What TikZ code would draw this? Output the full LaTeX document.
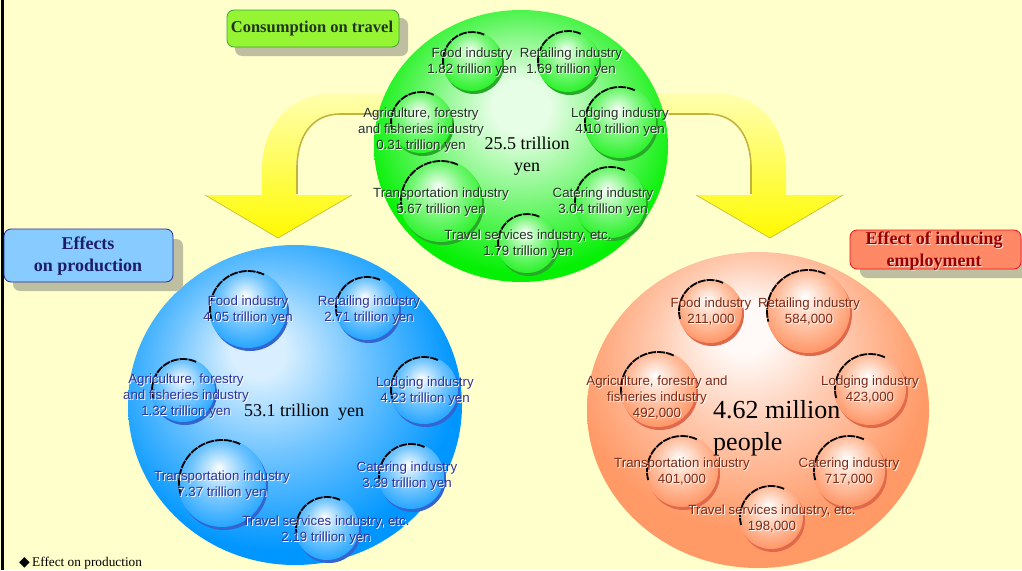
\documentclass[tikz,border=0pt]{standalone}
\usepackage{fontspec}
\setmainfont{Liberation Serif}
\newfontfamily\arialf{Liberation Sans}
\newfontfamily\dejavuf{DejaVu Sans}
\definecolor{bgY}{RGB}{255,255,204}
\definecolor{gC}{RGB}{5,240,5}
\definecolor{bC}{RGB}{0,150,255}
\definecolor{oC}{RGB}{255,153,102}
\colorlet{gHi}{white!90!gC}\colorlet{gMid}{white!50!gC}
\colorlet{bHi}{white!85!bC}\colorlet{bMid}{white!45!bC}
\colorlet{oHi}{white!95!oC}\colorlet{oMid}{white!50!oC}
\colorlet{gBHi}{white!80!gC}\colorlet{gBMid}{white!45!gC}\colorlet{gBEdge}{gC!88!white}
\colorlet{bBHi}{white!80!bC}\colorlet{bBMid}{white!45!bC}\colorlet{bBEdge}{bC!88!white}
\colorlet{oBHi}{white!80!oC}\colorlet{oBMid}{white!40!oC}\colorlet{oBEdge}{oC!95!red}
\definecolor{gSh}{RGB}{40,170,40}
\definecolor{bSh}{RGB}{50,100,210}
\definecolor{oSh}{RGB}{225,105,75}
\definecolor{gTxt}{RGB}{35,50,35}
\definecolor{bTxt}{RGB}{50,50,150}
\definecolor{oTxt}{RGB}{125,40,20}
\definecolor{arrTop}{RGB}{255,255,175}
\definecolor{arrBot}{RGB}{255,250,0}
\definecolor{arrEdge}{RGB}{195,180,60}
\definecolor{boxSh}{RGB}{190,190,160}
\definecolor{consF}{RGB}{150,245,50}
\definecolor{consD}{RGB}{60,160,60}
\definecolor{effF}{RGB}{136,204,255}
\definecolor{effD}{RGB}{40,40,150}
\definecolor{empF}{RGB}{255,136,102}
\definecolor{empD}{RGB}{240,20,20}
\pgfdeclareradialshading{gbig}{\pgfpoint{0bp}{8bp}}{color(0bp)=(gHi); color(5bp)=(gHi); color(15bp)=(gMid); color(27bp)=(gC); color(50bp)=(gC)}
\pgfdeclareradialshading{bbig}{\pgfpoint{-6bp}{9bp}}{color(0bp)=(bHi); color(4bp)=(bHi); color(14bp)=(bMid); color(27bp)=(bC); color(50bp)=(bC)}
\pgfdeclareradialshading{obig}{\pgfpoint{-2bp}{14bp}}{color(0bp)=(oHi); color(4bp)=(oHi); color(13bp)=(oMid); color(26bp)=(oC); color(50bp)=(oC)}
\pgfdeclareradialshading{gbub}{\pgfpoint{-2bp}{9bp}}{color(0bp)=(white); color(5bp)=(gBHi); color(16bp)=(gBMid); color(30bp)=(gBEdge); color(50bp)=(gBEdge)}
\pgfdeclareradialshading{bbub}{\pgfpoint{-2bp}{9bp}}{color(0bp)=(white); color(5bp)=(bBHi); color(16bp)=(bBMid); color(30bp)=(bBEdge); color(50bp)=(bBEdge)}
\pgfdeclareradialshading{obub}{\pgfpoint{-2bp}{9bp}}{color(0bp)=(white); color(5bp)=(oBHi); color(16bp)=(oBMid); color(30bp)=(oBEdge); color(50bp)=(oBEdge)}
% bubble: #1 name, #2 x, #3 y, #4 r, #5 shading, #6 shadow colour
\newcommand{\mybub}[6]{%
  \fill[#6] (#2+2,-#3-3) circle[radius=#4];
  \shade[shading=#5] (#2,-#3) circle[radius=#4];
  \draw[black, line width=1.8pt, dash pattern=on 8pt off 1pt] (#2,-#3) ++(65:#4-1) arc[start angle=65, end angle=195, radius=#4-1];
  \coordinate (#1) at (#2,-#3);
}
% label: #1 name, #2 x, #3 y, #4 colour, #5 text
\newcommand{\mylbl}[5]{%
  \node[lblsty, text=white] at (#2+0.9,-#3-0.9) {#5};
  \node[lblsty, text=#4] (#1) at (#2,-#3) {#5};
}
\tikzset{
  lblsty/.style={font=\arialf\fontsize{13.3}{16}\selectfont, align=center, inner sep=0pt},
  bigsty/.style={font=\fontsize{18}{22}\selectfont, align=center, inner sep=0pt},
  boxtxt/.style={font=\bfseries\fontsize{18}{22}\selectfont, align=center, inner sep=0pt},
  arrowshape/.style={top color=arrTop, bottom color=arrBot},
  edgeline/.style={arrEdge, line width=1.6pt},
  boxshadow/.style={fill=boxSh, rounded corners=7pt},
}
\begin{document}
\begin{tikzpicture}[x=1pt,y=1pt]
\useasboundingbox (0,0) rectangle (1022,-570);
\clip (0,0) rectangle (1022,-570);
\fill[bgY] (0,0) rectangle (1022,-570);
\draw[line width=3pt] (2.5,0) -- (2.5,-570);

% curved arrows
\shade[arrowshape] (405,-93) -- (335,-93) .. controls (290,-93) and (262,-125) .. (262,-170) -- (262,-195) -- (205,-195) -- (278,-238) -- (352,-195) -- (296,-195) -- (296,-168) .. controls (296,-135) and (312,-113) .. (340,-113) -- (405,-113) -- cycle;
\draw[edgeline] (405,-114) -- (340,-114) .. controls (313,-114) and (297,-135) .. (297,-168) -- (297,-194);
\draw[arrEdge, line width=0.6pt] (205,-195) -- (278,-238) -- (352,-195);
\shade[arrowshape] (643,-93) -- (713,-93) .. controls (758,-93) and (786,-125) .. (786,-170) -- (786,-195) -- (843,-195) -- (770,-238) -- (696,-195) -- (752,-195) -- (752,-168) .. controls (752,-135) and (736,-113) .. (708,-113) -- (643,-113) -- cycle;
\draw[edgeline] (643,-114) -- (708,-114) .. controls (735,-114) and (751,-135) .. (751,-168) -- (751,-194);
\draw[arrEdge, line width=0.6pt] (696,-195) -- (770,-238) -- (843,-195);

% big circles
\shade[shading=gbig] (521,-146) ellipse[x radius=147, y radius=136];
\coordinate (green) at (521,-146);
\shade[shading=bbig] (295,-405) ellipse[x radius=167, y radius=160];
\coordinate (blue) at (295,-405);
\shade[shading=obig] (758,-410) ellipse[x radius=171, y radius=158];
\coordinate (orange) at (758,-410);

% green bubbles
\mybub{gb1}{472}{61}{30}{gbub}{gSh}
\mybub{gb2}{568}{61}{31}{gbub}{gSh}
\mybub{gb3}{620}{122}{36}{gbub}{gSh}
\mybub{gb4}{421}{122}{31}{gbub}{gSh}
\mybub{gb5}{441}{201}{41}{gbub}{gSh}
\mybub{gb6}{610}{202}{36}{gbub}{gSh}
\mybub{gb7}{527}{243}{30}{gbub}{gSh}
% blue bubbles
\mybub{bb1}{248}{309}{39}{bbub}{bSh}
\mybub{bb2}{367}{308}{32}{bbub}{bSh}
\mybub{bb3}{183}{390}{32}{bbub}{bSh}
\mybub{bb4}{424}{390}{34}{bbub}{bSh}
\mybub{bb5}{222}{483}{44}{bbub}{bSh}
\mybub{bb6}{411}{476}{33}{bbub}{bSh}
\mybub{bb7}{327}{528}{32}{bbub}{bSh}
% orange bubbles
\mybub{ob1}{710}{311}{32}{obub}{oSh}
\mybub{ob2}{808}{311}{42}{obub}{oSh}
\mybub{ob3}{658}{389}{38}{obub}{oSh}
\mybub{ob4}{870}{389}{36}{obub}{oSh}
\mybub{ob5}{682}{471}{36}{obub}{oSh}
\mybub{ob6}{849}{471}{36}{obub}{oSh}
\mybub{ob7}{771}{517}{32}{obub}{oSh}

% green labels
\mylbl{gl1}{472}{62.5}{gTxt}{Food industry\\1.82 trillion yen}
\mylbl{gl2}{571}{62.5}{gTxt}{Retailing industry\\1.69 trillion yen}
\mylbl{gl3}{421}{130}{gTxt}{Agriculture, forestry\\and fisheries industry\\0.31 trillion yen}
\mylbl{gl4}{620}{122.5}{gTxt}{Lodging industry\\4.10 trillion yen}
\mylbl{gl5}{441}{202}{gTxt}{Transportation industry\\5.67 trillion yen}
\mylbl{gl6}{603}{202}{gTxt}{Catering industry\\3.04 trillion yen}
\mylbl{gl7}{528}{244.5}{gTxt}{Travel services industry, etc.\\1.79 trillion yen}
\node[bigsty] (gtotal) at (527,-156) {25.5 trillion\\yen};

% blue labels
\mylbl{bl1}{248}{310}{bTxt}{Food industry\\4.05 trillion yen}
\mylbl{bl2}{369}{310}{bTxt}{Retailing industry\\2.71 trillion yen}
\mylbl{bl3}{186}{396}{bTxt}{Agriculture, forestry\\and fisheries industry\\1.32 trillion yen}
\mylbl{bl4}{425}{391}{bTxt}{Lodging industry\\4.23 trillion yen}
\mylbl{bl5}{222}{485.5}{bTxt}{Transportation industry\\7.37 trillion yen}
\mylbl{bl6}{407}{476.5}{bTxt}{Catering industry\\3.39 trillion yen}
\mylbl{bl7}{326}{530}{bTxt}{Travel services industry, etc.\\2.19 trillion yen}
\node[bigsty] (btotal) at (304,-412) {53.1 trillion\ \ yen};

% orange labels
\mylbl{ol1}{711}{311.5}{oTxt}{Food industry\\211,000}
\mylbl{ol2}{809}{311.5}{oTxt}{Retailing industry\\584,000}
\mylbl{ol3}{657}{398}{oTxt}{Agriculture, forestry and\\fisheries industry\\492,000}
\mylbl{ol4}{870}{390}{oTxt}{Lodging industry\\423,000}
\mylbl{ol5}{682}{472}{oTxt}{Transportation industry\\401,000}
\mylbl{ol6}{849}{472}{oTxt}{Catering industry\\717,000}
\mylbl{ol7}{772}{519}{oTxt}{Travel services industry, etc.\\198,000}
\node[font=\fontsize{26}{32}\selectfont, align=left, inner sep=0pt, anchor=west] (ototal) at (713,-428) {4.62 million\\people};

% title boxes
\fill[boxshadow] (235,-18) rectangle (408,-56);
\draw[fill=consF, draw=consD, line width=0.8pt, rounded corners=7pt] (227,-10) rectangle (399,-47);
\node[boxtxt, font=\bfseries\fontsize{16.5}{20}\selectfont, text=gTxt] (cons) at (312,-29) {Consumption on travel};

\fill[boxshadow] (13,-239) rectangle (183,-291);
\draw[fill=effF, draw=effD, line width=0.8pt, rounded corners=7pt] (4,-229) rectangle (173,-282);
\node[boxtxt, text=effD!70!black] (eff) at (88,-256.5) {Effects\\on production};

\fill[boxshadow] (860,-239) rectangle (1040,-278);
\draw[fill=empF, draw=empD, line width=0.8pt, rounded corners=7pt] (850,-230) rectangle (1021,-269);
\node[boxtxt, text=white!70!empF] at (935,-252.5) {Effect of inducing\\employment};
\node[boxtxt, text={rgb,255:red,150;green,0;blue,0}] (emp) at (934,-251.5) {Effect of inducing\\employment};

% footnote (at the lower edge)
\node[anchor=base west, inner sep=0pt, font=\fontsize{13.3}{16}\selectfont] (note) at (19,-566) {{\dejavuf\fontsize{14}{16}\selectfont ◆}\,Effect on production};
\end{tikzpicture}
\end{document}
